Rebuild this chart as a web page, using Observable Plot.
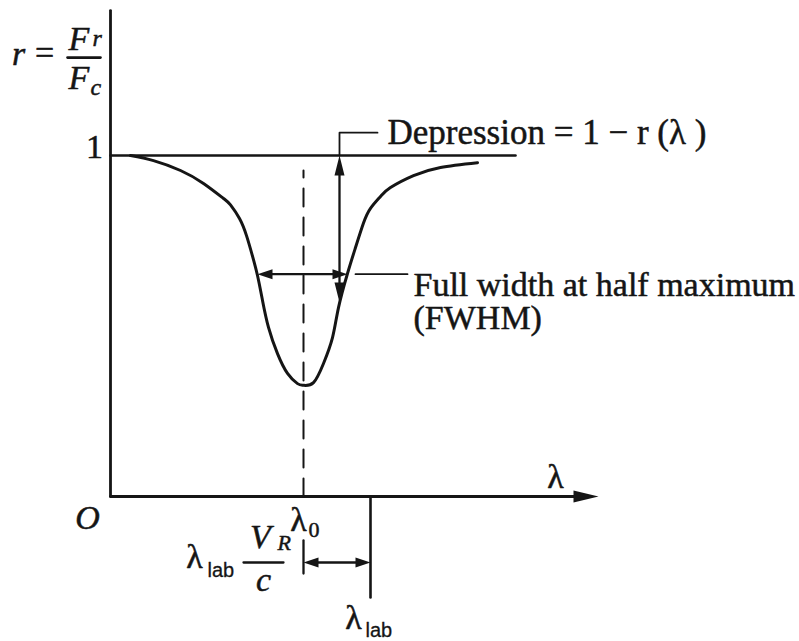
<!DOCTYPE html>
<html>
<head>
<meta charset="utf-8">
<script src="https://cdn.jsdelivr.net/npm/d3@7"></script>
<script src="https://cdn.jsdelivr.net/npm/@observablehq/plot@0.6"></script>
<style>
  html, body { margin: 0; padding: 0; background: #fff; }
  #chart svg { display: block; }
</style>
</head>
<body>
<div id="chart"></div>
<script>
// Residual flux r = Fr/Fc across an absorption line, sampled along the profile
const profileLambda = [2.0, 4.3, 7.0, 9.3, 11.3, 12.0, 12.9, 13.6, 14.2, 14.7, 15.2, 15.8, 16.7, 17.7, 18.7, 19.3,
                       20.3, 21.3, 22.2, 22.8, 23.7, 24.5, 25.3, 26.0, 27.0, 28.0, 30.3, 33.0, 36.7];
const profileR = [1.000, 0.985, 0.956, 0.918, 0.874, 0.855, 0.815, 0.765, 0.705, 0.648, 0.575, 0.496, 0.419, 0.361, 0.331, 0.326,
                  0.334, 0.390, 0.466, 0.554, 0.654, 0.730, 0.802, 0.845, 0.880, 0.906, 0.941, 0.965, 0.979];

// Characteristic wavelengths and levels of the line
const continuumLevel = 1;
const lambdaObs = 19.3;          // λ0, observed line centre
const lambdaLab = 26.0;          // laboratory wavelength
const fwhmEdges = [14.7, 23.7];  // where the profile crosses half depth
const halfLevel = 0.652;
const depressionAt = 22.9;       // wavelength at which the depression is shown
const depressionFoot = 0.569;

// Text
const yAxisLabel = ["r", "=", "F", "r", "F", "c"];
const depressionLabel = "Depression = 1 − r (λ )";
const fwhmLabel = ["Full width at half maximum", "(FWHM)"];

const profile = profileLambda.map((l, i) => ({l, r: profileR[i]}));

const ink = "#151515";
const serif = "Liberation Serif, 'Times New Roman', serif";
const sans = "Liberation Sans, Arial, sans-serif";

// Filled triangular arrowhead with its tip on the anchor point
function head(dir, len, half) {
  const pts = {
    right: [[0, 0], [-len, -half], [-len, half]],
    left:  [[0, 0], [len, -half], [len, half]],
    up:    [[0, 0], [-half, len], [half, len]],
    down:  [[0, 0], [-half, -len], [half, -len]]
  }[dir];
  return {draw(ctx) { ctx.moveTo(...pts[0]); ctx.lineTo(...pts[1]); ctx.lineTo(...pts[2]); ctx.closePath(); }};
}
const arrowHead = (l, r, dir, len, half) =>
  Plot.dot([{l, r}], {x: "l", y: "r", symbol: head(dir, len, half), fill: ink});

const rule = (l1, r1, l2, r2, w = 2.4, extra = {}) =>
  Plot.line([{l: l1, r: r1}, {l: l2, r: r2}], {x: "l", y: "r", stroke: ink, strokeWidth: w, ...extra});

// Serif labels, slightly emboldened with a thin outline of the same ink
const label = (t, l, r, o = {}) =>
  Plot.text([{l, r, t}], {x: "l", y: "r", text: "t", fill: ink, stroke: ink, strokeWidth: 0.5,
    fontFamily: serif, fontSize: 34, lineAnchor: "bottom", textAnchor: "start", ...o});

const chart = Plot.plot({
  width: 799,
  height: 641,
  margin: 0,
  style: {background: "#fff", color: ink},
  x: {domain: [-11, 68.9], range: [0, 799], axis: null},
  y: {domain: [-0.4252, 1.4545], range: [641, 0], axis: null},
  marks: [
    // axes
    rule(0, 0, 0, 1.425, 2.8),
    rule(0, 0, 48.0, 0, 2.8),
    arrowHead(48.8, 0, "right", 25, 6),

    // continuum and line centre
    rule(0, continuumLevel, 40.5, continuumLevel, 2.6),
    rule(lambdaObs, 0, lambdaObs, 0.956, 2, {strokeDasharray: "18,11"}),

    // line profile
    Plot.line(profile, {x: "l", y: "r", curve: "natural", stroke: ink, strokeWidth: 3}),

    // depression arrow and its leader
    rule(depressionAt, depressionFoot + 0.03, depressionAt, continuumLevel - 0.03, 2.3),
    arrowHead(depressionAt, continuumLevel, "up", 20, 5),
    arrowHead(depressionAt, depressionFoot, "down", 20, 5),
    Plot.line([{l: depressionAt, r: continuumLevel}, {l: depressionAt, r: 1.067}, {l: 26.7, r: 1.067}],
      {x: "l", y: "r", stroke: ink, strokeWidth: 1.8}),
    label(depressionLabel, 27.7, 1.035, {fontSize: 35}),

    // full width at half maximum
    rule(fwhmEdges[0] + 1, halfLevel, fwhmEdges[1] - 1, halfLevel, 2.3),
    arrowHead(fwhmEdges[0], halfLevel, "left", 15, 5),
    arrowHead(fwhmEdges[1], halfLevel, "right", 15, 5),
    rule(24.5, halfLevel, 29.7, halfLevel, 1.8),
    label(fwhmLabel[0], 30.3, 0.589),
    label(fwhmLabel[1], 30.3, 0.490),

    // Doppler shift between λ0 and λlab
    rule(lambdaObs, -0.129, lambdaObs, -0.226, 2.3),
    rule(lambdaLab, 0, lambdaLab, -0.296, 2.6),
    rule(lambdaObs + 1, -0.1935, lambdaLab - 1, -0.1935, 2.3),
    arrowHead(lambdaObs, -0.1935, "left", 15, 5),
    arrowHead(lambdaLab, -0.1935, "right", 15, 5),

    // y-axis title r = Fr / Fc
    label(yAxisLabel[0], -9.2, 1.264, {fontStyle: "italic", textAnchor: "middle"}),
    label(yAxisLabel[1], -6.6, 1.267, {textAnchor: "middle"}),
    rule(-4.3, 1.287, -1.0, 1.287, 2.6),
    label(yAxisLabel[2], -4.2, 1.308, {fontStyle: "italic"}),
    label(yAxisLabel[3], -1.8, 1.320, {fontStyle: "italic", fontSize: 24}),
    label(yAxisLabel[4], -4.2, 1.196, {fontStyle: "italic"}),
    label(yAxisLabel[5], -2.0, 1.176, {fontStyle: "italic", fontSize: 24}),
    label("1", -1.6, 0.994, {textAnchor: "middle"}),

    // origin and wavelength labels
    label("O", -2.3, -0.094, {fontStyle: "italic", textAnchor: "middle"}),
    label("λ", 44.5, 0.026, {textAnchor: "middle"}),
    label("λ", 18.8, -0.0997, {textAnchor: "middle"}),
    label("0", 19.8, -0.120, {fontSize: 22}),

    // λlab VR / c
    label("λ", 8.4, -0.211, {textAnchor: "middle"}),
    label("lab", 9.7, -0.2375, {fontSize: 20, fontFamily: sans, strokeWidth: 0.3}),
    rule(13.3, -0.1935, 17.3, -0.1935, 2.3),
    label("V", 15.0, -0.1496, {fontStyle: "italic", textAnchor: "middle"}),
    label("R", 16.7, -0.158, {fontStyle: "italic", fontSize: 22}),
    label("c", 15.3, -0.2757, {fontStyle: "italic", textAnchor: "middle"}),

    // λlab under its marker
    label("λ", 24.3, -0.390, {textAnchor: "middle"}),
    label("lab", 25.5, -0.413, {fontSize: 20, fontFamily: sans, strokeWidth: 0.3})
  ]
});

document.getElementById("chart").append(chart);
</script>
</body>
</html>
